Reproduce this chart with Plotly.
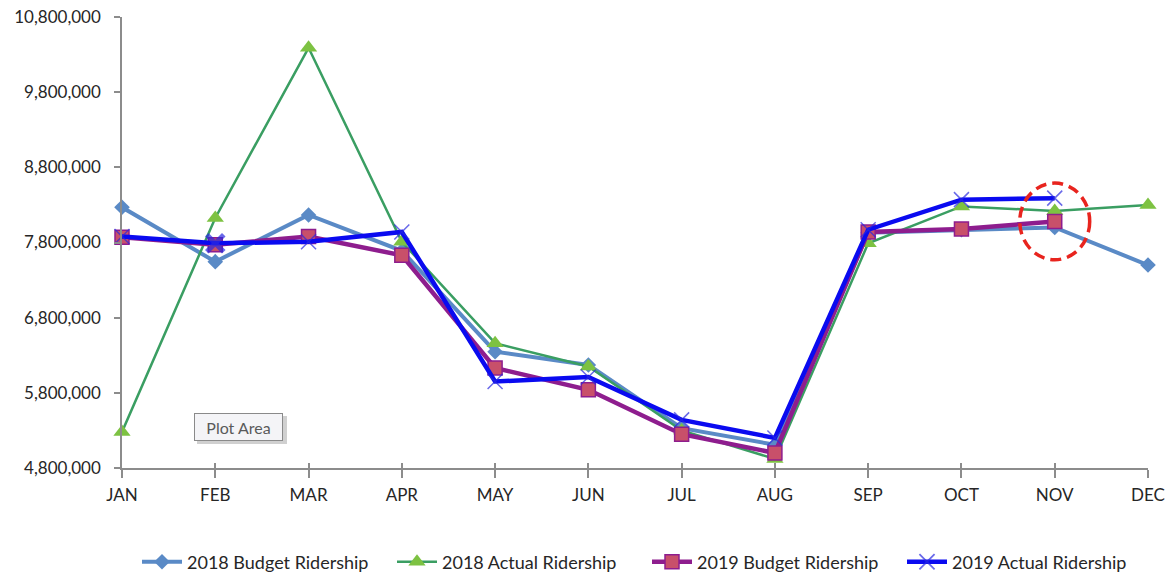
import plotly.graph_objects as go

# Monthly ridership, budget vs actual, 2018 and 2019
months = ["JAN", "FEB", "MAR", "APR", "MAY", "JUN", "JUL", "AUG", "SEP", "OCT", "NOV", "DEC"]
budget_2018 = [8268000, 7545000, 8166000, 7690000, 6347000, 6170000, 5330000, 5110000, 7930000, 7970000, 8000000, 7500000]
actual_2018 = [5280000, 8126000, 10390000, 7810000, 6460000, 6150000, 5300000, 4920000, 7790000, 8280000, 8220000, 8300000]
budget_2019 = [7870000, 7770000, 7880000, 7630000, 6130000, 5840000, 5250000, 5000000, 7940000, 7980000, 8080000, None]
actual_2019 = [7880000, 7790000, 7810000, 7940000, 5950000, 6010000, 5440000, 5200000, 7970000, 8370000, 8390000, None]

y_ticks = [4800000, 5800000, 6800000, 7800000, 8800000, 9800000, 10800000]

FONT = "Lato"
TEXT = "#262626"
AXIS_GRAY = "#8c8c8c"
W, H = 1171, 573
L, R, T, B = 122, 23, 17, 105
PW, PH = W - L - R, H - T - B


def px_x(p):
    return (p - L) / PW


def px_y(p):
    return (H - B - p) / PH


fig = go.Figure()

fig.add_trace(go.Scatter(
    x=months, y=budget_2018, name="2018 Budget Ridership", legend="legend",
    mode="lines+markers", cliponaxis=False,
    line=dict(color="#5a8ac6", width=4),
    marker=dict(symbol="diamond", size=12, color="#5a8ac6"),
))
fig.add_trace(go.Scatter(
    x=months, y=actual_2018, name="2018 Actual Ridership", legend="legend2",
    mode="lines+markers", cliponaxis=False,
    line=dict(color="#3a9e62", width=2.5),
    marker=dict(symbol="triangle-up", size=15, color="#7dc242",
                line=dict(color="#7dc242", width=0)),
))
fig.add_trace(go.Scatter(
    x=months, y=budget_2019, name="2019 Budget Ridership", legend="legend3",
    mode="lines+markers", cliponaxis=False,
    line=dict(color="#8e1d8e", width=4.5),
    marker=dict(symbol="square", size=14, color="#c8506a",
                line=dict(color="#8e1d8e", width=1.5)),
))
# the February point is shown as the selected (bold) marker
x_widths = [1.5, 5, 1.5, 1.5, 1.5, 1.5, 1.5, 1.5, 1.5, 1.5, 1.5, 1.5]
x_sizes = [15, 17, 15, 15, 15, 15, 15, 15, 15, 15, 15, 15]
fig.add_trace(go.Scatter(
    x=months, y=actual_2019, name="2019 Actual Ridership", legend="legend4",
    mode="lines+markers", cliponaxis=False,
    line=dict(color="#0a0af0", width=4.5),
    marker=dict(symbol="x-thin", size=x_sizes, color="#2a2ae0",
                line=dict(color="#2a2ae0", width=x_widths)),
))

# short tick marks above the category axis (ticks cross the axis line)
fig.add_trace(go.Scatter(x=months, y=[None] * 12, xaxis="x2", showlegend=False,
                         hoverinfo="skip"))

# dashed red ring highlighting November 2019
nov = months.index("NOV")
ring_y = budget_2019[nov]
fig.add_shape(type="circle", xref="x", yref="y",
              x0=nov - 0.375, x1=nov + 0.375,
              y0=ring_y - 510000, y1=ring_y + 510000,
              line=dict(color="#e8241e", width=3.5, dash="11px,6px"))

# "Plot Area" hover tip box with its drop shadow
fig.add_shape(type="rect", xref="paper", yref="paper",
              x0=px_x(197), x1=px_x(287), y0=px_y(444), y1=px_y(416),
              line=dict(width=0), fillcolor="rgba(120,120,120,0.35)", layer="above")
fig.add_annotation(xref="paper", yref="paper", xanchor="center", yanchor="middle",
                   x=px_x(238.5), y=px_y(427),
                   text="Plot Area", showarrow=False, width=79, height=18,
                   font=dict(family=FONT, size=16, color="#5a5a5a"),
                   bgcolor="#f4f4f7", bordercolor="#8a8a8a", borderwidth=1,
                   borderpad=4)


def legend_at(x_px):
    return dict(orientation="h", xref="container", yref="container",
                x=x_px / W, xanchor="left", y=(H - 562) / H, yanchor="middle",
                font=dict(family=FONT, size=18, color=TEXT),
                itemwidth=40, bgcolor="rgba(0,0,0,0)")


fig.update_layout(
    width=W, height=H,
    margin=dict(l=L, r=R, t=T, b=B, autoexpand=False),
    paper_bgcolor="white", plot_bgcolor="white",
    font=dict(family=FONT, size=17, color=TEXT),
    showlegend=True,
    legend=legend_at(137),
    legend2=legend_at(392),
    legend3=legend_at(647),
    legend4=legend_at(902),
    xaxis=dict(type="category", categoryorder="array", categoryarray=months,
               range=[0, 11], showgrid=False, zeroline=False, automargin=False,
               showline=True, linecolor=AXIS_GRAY, linewidth=1.5,
               ticks="outside", ticklen=8, tickcolor=AXIS_GRAY, tickwidth=1.5,
               ticklabelstandoff=3,
               tickfont=dict(family=FONT, size=17, color=TEXT)),
    xaxis2=dict(type="category", categoryorder="array", categoryarray=months,
                range=[0, 11], overlaying="x", matches="x", side="bottom",
                showgrid=False, zeroline=False, showline=False, automargin=False,
                ticks="inside", ticklen=5, tickcolor=AXIS_GRAY, tickwidth=1.5,
                showticklabels=False),
    yaxis=dict(range=[4800000, 10800000], tickvals=y_ticks, tickformat=",d",
               showgrid=False, zeroline=False, automargin=False,
               showline=True, linecolor=AXIS_GRAY, linewidth=1.5,
               ticks="outside", ticklen=6, tickcolor=AXIS_GRAY, tickwidth=1.5,
               ticklabelstandoff=10,
               tickfont=dict(family=FONT, size=17, color=TEXT)),
)

fig.write_html("out.html")
